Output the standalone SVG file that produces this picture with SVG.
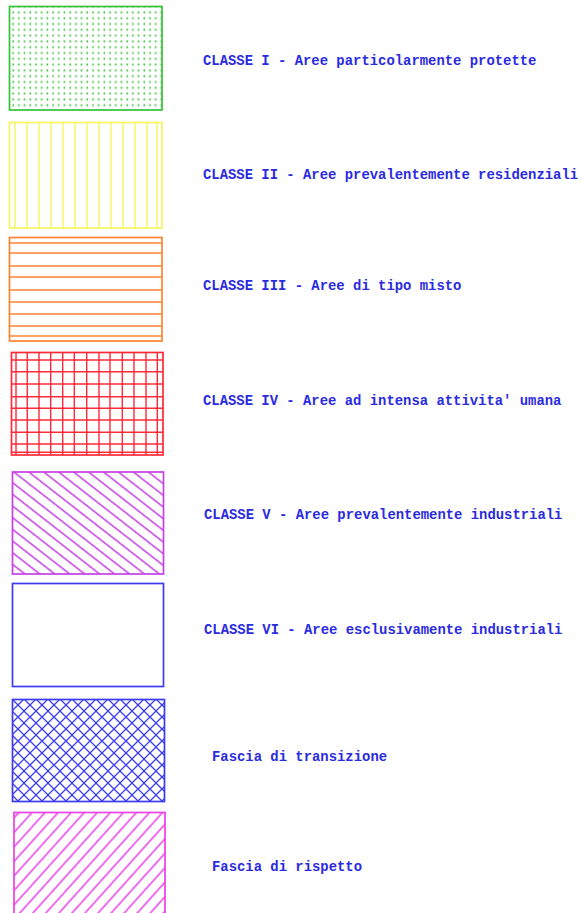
<svg xmlns="http://www.w3.org/2000/svg" width="582" height="913" viewBox="0 0 582 913">
<style>
text{font-family:"Liberation Mono","DejaVu Sans Mono",monospace;font-size:13.9px;font-weight:bold;fill:#2b2bdf}
.b{fill:none;stroke-width:1.7}
.h{stroke-width:1.4;fill:none}
</style>
<defs>
<pattern id="dots" patternUnits="userSpaceOnUse" x="11" y="10" width="5.7" height="5.8">
<rect x="1.4" y="1.4" width="1.6" height="2" fill="#3cc43c"/>
</pattern>
<pattern id="diagV" patternUnits="userSpaceOnUse" width="20" height="9.2" patternTransform="rotate(38)">
<line x1="0" y1="4.6" x2="20" y2="4.6" stroke="#c63fe6" stroke-width="1.5"/>
</pattern>
<pattern id="cross" patternUnits="userSpaceOnUse" width="12" height="12" x="12" y="699">
<path d="M-1,-1 L13,13 M13,-1 L-1,13" stroke="#3b3bf0" stroke-width="1.3" fill="none"/>
</pattern>
<pattern id="diagR" patternUnits="userSpaceOnUse" width="20" height="9.7" patternTransform="rotate(-48)">
<line x1="0" y1="4.85" x2="20" y2="4.85" stroke="#ea3fea" stroke-width="1.5"/>
</pattern>
</defs>

<g id="classe1">
<rect x="9.5" y="6.5" width="152.5" height="103.5" fill="url(#dots)"/>
<rect class="b" x="9.5" y="6.5" width="152.5" height="103.5" stroke="#33c433"/>
<text x="203" y="65">CLASSE I - Aree particolarmente protette</text>
</g>

<g id="classe2">
<g class="h" stroke="#f5f560">
<path d="M15,122V228M27,122V228M39,122V228M51,122V228M63,122V228M75,122V228M87,122V228M99,122V228M111,122V228M123,122V228M135,122V228M147,122V228M157,122V228"/>
</g>
<rect class="b" x="9.5" y="122.5" width="152.5" height="105.5" stroke="#f5f560"/>
<text x="203" y="179">CLASSE II - Aree prevalentemente residenziali</text>
</g>

<g id="classe3">
<g class="h" stroke="#ff8430">
<path d="M10,243H162M10,253H162M10,266H162M10,277H162M10,290H162M10,302H162M10,314H162M10,326H162M10,336H162"/>
</g>
<rect class="b" x="9.5" y="237.5" width="152.5" height="103.5" stroke="#ff8430"/>
<text x="203" y="290">CLASSE III - Aree di tipo misto</text>
</g>

<g id="classe4">
<g class="h" stroke="#ff2a3a">
<path d="M16,352V455M27.3,352V455M39,352V455M50.7,352V455M62.7,352V455M74.3,352V455M86.7,352V455M99,352V455M110,352V455M122.3,352V455M134,352V455M146,352V455M157.3,352V455"/>
<path d="M11,360H163M11,371.7H163M11,384H163M11,396.7H163M11,408.3H163M11,420H163M11,432.3H163M11,444H163M11,452.3H163"/>
</g>
<rect class="b" x="11.5" y="352.5" width="151.5" height="102.5" stroke="#ff2a3a"/>
<text x="203" y="405">CLASSE IV - Aree ad intensa attivita' umana</text>
</g>

<g id="classe5">
<rect x="12.5" y="472" width="151" height="102" fill="url(#diagV)"/>
<rect class="b" x="12.5" y="472" width="151" height="102" stroke="#c63fe6"/>
<text x="204" y="519">CLASSE V - Aree prevalentemente industriali</text>
</g>

<g id="classe6">
<rect class="b" x="12.5" y="583.5" width="151" height="103" stroke="#3b3bf0"/>
<text x="204" y="634">CLASSE VI - Aree esclusivamente industriali</text>
</g>

<g id="transizione">
<rect x="12.5" y="699.5" width="152" height="102" fill="url(#cross)"/>
<rect class="b" x="12.5" y="699.5" width="152" height="102" stroke="#3b3bf0"/>
<text x="212" y="761">Fascia di transizione</text>
</g>

<g id="rispetto">
<rect x="14" y="812.5" width="151" height="110" fill="url(#diagR)"/>
<rect class="b" x="14" y="812.5" width="151" height="110" stroke="#ea3fea"/>
<text x="212" y="871">Fascia di rispetto</text>
</g>
</svg>
